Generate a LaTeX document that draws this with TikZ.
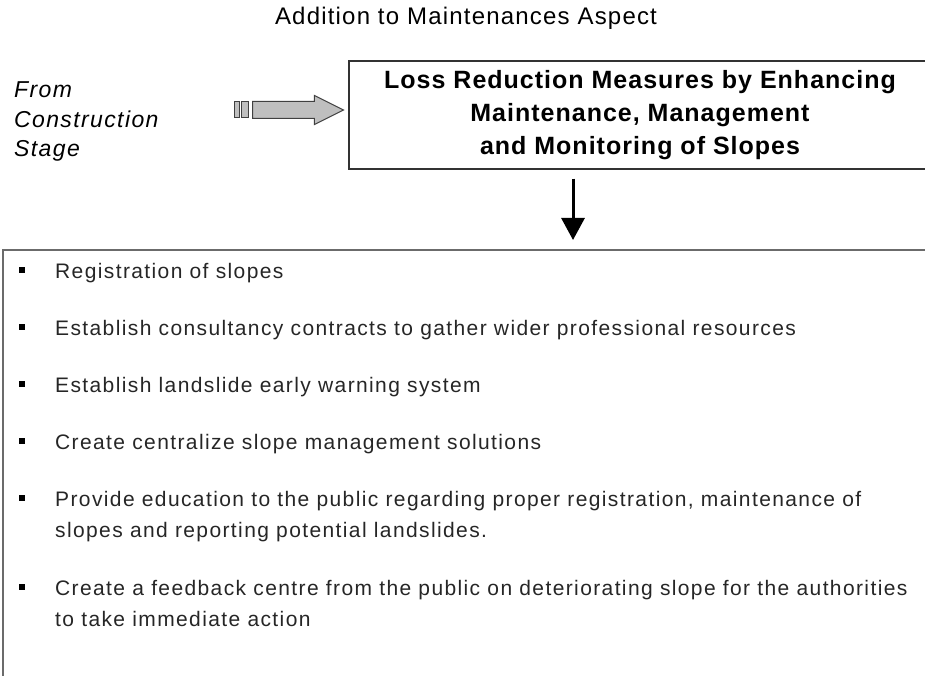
\documentclass[tikz,border=0pt]{standalone}
\usepackage{fontspec}
\setmainfont{Liberation Sans}
\usetikzlibrary{arrows.meta,shapes.arrows}

\begin{document}
\begin{tikzpicture}[x=1pt,y=-1pt,
heading/.style={font=\fontsize{24}{28}\selectfont\addfontfeature{LetterSpace=5}},
measurebox/.style={draw=black!80,line width=1.5pt,minimum width=582pt,minimum height=108pt,align=center,font=\fontsize{25}{33}\selectfont\bfseries\addfontfeature{LetterSpace=4}},
listbox/.style={draw=black!58,line width=2pt,anchor=north west,minimum width=960pt,minimum height=460pt},
item/.style={anchor=north west,align=left,inner sep=0pt,text=black!85,font=\fontsize{21}{31}\selectfont\addfontfeature{LetterSpace=6.6}},
feedarrow/.style={single arrow,draw=black!75,fill=black!25,line width=1pt,minimum height=91pt,inner xsep=0pt,inner ysep=8pt,single arrow head extend=6pt,single arrow tip angle=53},
flow/.style={line width=3pt,-{Triangle[width=23pt,length=22pt]}}]
\useasboundingbox (0,0) rectangle (925,676);
\clip (0,0) rectangle (925,676);

\node[heading] (title) at (466,18) {Addition to Maintenances Aspect};
\node[anchor=base west,align=left,inner sep=0pt,font=\fontsize{23}{29.5}\selectfont\itshape\addfontfeature{LetterSpace=6}] (source) at (14,157) {From\\Construction\\Stage};
\node[measurebox] (measures) at (640,115) {Loss Reduction Measures by Enhancing\\Maintenance, Management\\and Monitoring of Slopes};
\node[listbox] (actions) at (2,249) {};

% feed from the construction stage
\node[feedarrow] (feed) at (289.5,110) {};
\draw[draw=black!75,fill=black!25,line width=1pt] (234,102) rectangle (239,118);
\draw[draw=black!75,fill=black!25,line width=1pt] (241,102) rectangle (248,118);

\coordinate (drop) at (573,0);
\draw[flow,shorten <=9pt,shorten >=9pt] (measures.south -| drop) -- (actions.north -| drop);

\foreach \y/\txt [count=\i] in {278/{Registration of slopes},
335/{Establish consultancy contracts to gather wider professional resources},
392/{Establish landslide early warning system},
449/{Create centralize slope management solutions},
506/{Provide education to the public regarding proper registration, maintenance of\\slopes and reporting potential landslides.},
595/{Create a feedback centre from the public on deteriorating slope for the authorities\\to take immediate action}}{
\node[item] (m\i) at (55,\y-21.7) {\strut\txt};
\fill (19,\y-11) rectangle +(6,6);
}

\end{tikzpicture}
\end{document}
